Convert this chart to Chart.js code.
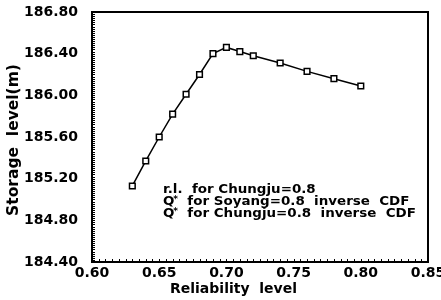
<!DOCTYPE html>
<html><head><meta charset="utf-8">
<script src="https://cdn.jsdelivr.net/npm/chart.js@4"></script>
<style>html,body{margin:0;padding:0;background:#fff}#wrap{width:441px;height:300px}</style>
</head><body><div id="wrap"><canvas id="c" width="441" height="300"></canvas></div>
<script>
const reliability = [0.63,0.64,0.65,0.66,0.67,0.68,0.69,0.70,0.71,0.72,0.74,0.76,0.78,0.80];
const storageLevel = [185.13,185.37,185.60,185.82,186.01,186.20,186.40,186.46,186.42,186.38,186.31,186.23,186.16,186.09];
const xTicks = [0.60,0.65,0.70,0.75,0.80,0.85];
const yTicks = [184.40,184.80,185.20,185.60,186.00,186.40,186.80];
const xTitle = 'Reliability  level';
const yTitle = 'Storage  level(m)';
const noteLines = [["", "r.l.", "  for Chungju=0.8"],["Q","*","  for Soyang=0.8  inverse  CDF"],["Q","*","  for Chungju=0.8  inverse  CDF"]];

const FONT = "'DejaVu Sans', sans-serif";
const points = reliability.map((x,i)=>({x:x,y:storageLevel[i]}));

const deco = {
  id:'deco',
  afterDraw(chart){
    const ctx = chart.ctx, a = chart.chartArea;
    const xs = chart.scales.x, ys = chart.scales.y;
    ctx.save();
    ctx.strokeStyle='#000';
    ctx.lineWidth=1;
    ctx.beginPath();
    for(let v=0.60; v<=0.8501; v+=0.005){
      const px = Math.round(xs.getPixelForValue(v))+0.5;
      ctx.moveTo(px,a.bottom); ctx.lineTo(px,a.bottom-3);
    }
    for(let v=184.40; v<=186.801; v+=0.02){
      const py = Math.round(ys.getPixelForValue(v))+0.5;
      ctx.moveTo(a.left,py); ctx.lineTo(a.left+3,py);
    }
    ctx.stroke();
    ctx.lineWidth=2;
    ctx.strokeRect(a.left,a.top,a.right-a.left,a.bottom-a.top);
    ctx.fillStyle='#000';
    // axis titles
    ctx.font = "bold 14px "+FONT;
    ctx.textAlign='left'; ctx.textBaseline='alphabetic';
    ctx.fillText(xTitle,170,293);
    ctx.save();
    ctx.translate(18,140); ctx.rotate(-Math.PI/2);
    ctx.font = "bold 15.5px "+FONT; ctx.textAlign='center';
    ctx.fillText(yTitle,0,0);
    ctx.restore();
    // notes
    const sx = 1.12;
    noteLines.forEach((ln,i)=>{
      ctx.save();
      ctx.translate(163, 193 + i*12);
      ctx.scale(sx,1);
      let x = 0;
      ctx.font = "bold 12px "+FONT;
      if(ln[0]){ ctx.fillText(ln[0],x,0); x += ctx.measureText(ln[0]).width;
        ctx.font = "bold 8px "+FONT; ctx.fillText(ln[1],x-1,-3); x += ctx.measureText(ln[1]).width-1; }
      else { ctx.fillText(ln[1],x,0); x += ctx.measureText(ln[1]).width; }
      ctx.font = "bold 12px "+FONT;
      ctx.fillText(ln[2],x,0);
      ctx.restore();
    });
    ctx.restore();
  }
};

new Chart(document.getElementById('c'),{
  type:'scatter',
  data:{datasets:[{
    data:points, showLine:true, borderColor:'#000', borderWidth:1.5,
    pointStyle:'rect', pointRadius:4, pointBackgroundColor:'#fff', pointBorderColor:'#000', pointBorderWidth:1.5
  }]},
  options:{
    responsive:false, animation:false,
    layout:{padding:{top:12,right:13,left:0,bottom:0}},
    plugins:{legend:{display:false},tooltip:{enabled:false}},
    scales:{
      x:{type:'linear',min:0.60,max:0.85,
        afterBuildTicks(s){s.ticks=xTicks.map(v=>({value:v}));},
        afterFit(s){s.height=38; s.paddingLeft=0; s.paddingRight=0;},
        grid:{display:false,drawTicks:false},border:{display:false},
        ticks:{color:'#000',font:{family:FONT,size:14,weight:'bold'},padding:3,maxRotation:0,
          callback:v=>v.toFixed(2)},
        title:{display:false}
      },
      y:{type:'linear',min:184.40,max:186.80,
        afterBuildTicks(s){s.ticks=yTicks.map(v=>({value:v}));},
        afterFit(s){s.width=92; s.paddingTop=0; s.paddingBottom=0;},
        grid:{display:false,drawTicks:false},border:{display:false},
        ticks:{color:'#000',font:{family:FONT,size:14,weight:'bold'},padding:14,
          callback:v=>v.toFixed(2)},
        title:{display:false}
      }
    }
  },
  plugins:[deco]
});
</script></body></html>
